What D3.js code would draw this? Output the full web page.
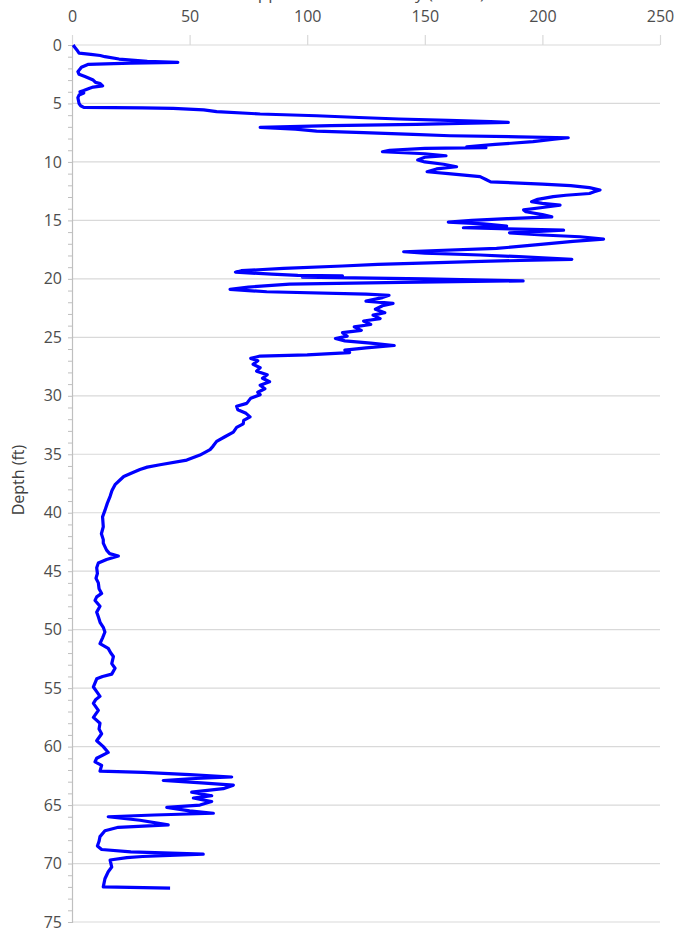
<!DOCTYPE html>
<html>
<head>
<meta charset="utf-8">
<script src="https://cdn.jsdelivr.net/npm/d3@7"></script>
<style>
  body { margin: 0; background: #fff; }
  svg { display: block; font-family: "Open Sans", sans-serif; }
</style>
</head>
<body>
<div id="chart"></div>
<script>
const svgWidth = 676;
const svgHeight = 929;
const margin = { top: 45, right: 16, bottom: 7, left: 72 };

const chartTitle = "Apparent Conductivity (mS/m)";
const yLabel = "Depth (ft)";
const xTicks = [0, 50, 100, 150, 200, 250];
const yTicks = [0, 5, 10, 15, 20, 25, 30, 35, 40, 45, 50, 55, 60, 65, 70, 75];

// depth (ft), top to bottom
const depth = [
  0.0, 0.15, 0.4, 0.7, 0.8, 0.9, 1.0, 1.2, 1.4, 1.48, 1.55, 1.65, 1.9, 2.28, 2.5, 2.7, 3.0, 3.2, 3.3, 3.5,
  3.6, 3.7, 3.9, 4.0, 4.1, 4.28, 4.5, 4.7, 5.0, 5.2, 5.33, 5.38, 5.42, 5.55, 5.7, 5.9, 6.05, 6.2, 6.33, 6.45,
  6.55, 6.62, 6.7, 6.78, 6.9, 7.04, 7.2, 7.36, 7.5, 7.65, 7.76, 7.85, 7.93, 8.05, 8.27, 8.5, 8.7, 8.78, 8.84, 9.0,
  9.13, 9.3, 9.47, 9.6, 9.84, 10.0, 10.2, 10.41, 10.6, 10.84, 11.0, 11.26, 11.5, 11.7, 11.9, 12.03, 12.2, 12.4, 12.55, 12.7,
  12.85, 12.97, 13.2, 13.4, 13.55, 13.7, 13.9, 14.1, 14.26, 14.5, 14.7, 14.85, 15.0, 15.15, 15.3, 15.48, 15.63, 15.83, 16.06, 16.25,
  16.4, 16.6, 16.8, 17.1, 17.4, 17.68, 17.8, 17.96, 18.1, 18.33, 18.5, 18.76, 18.9, 19.1, 19.3, 19.43, 19.6, 19.7, 19.75, 19.85,
  20.0, 20.17, 20.3, 20.45, 20.7, 20.9, 21.0, 21.1, 21.3, 21.4, 21.6, 21.9, 22.1, 22.3, 22.6, 22.9, 23.1, 23.4, 23.6, 23.9,
  24.1, 24.4, 24.6, 24.9, 25.1, 25.3, 25.5, 25.7, 25.9, 26.1, 26.3, 26.5, 26.6, 26.8, 27.0, 27.3, 27.6, 27.9, 28.2, 28.5,
  28.8, 29.1, 29.4, 29.7, 29.9, 30.2, 30.65, 30.9, 31.2, 31.5, 31.8, 32.1, 32.4, 32.7, 33.1, 33.5, 33.9, 34.3, 34.6, 35.07,
  35.5, 35.9, 36.1, 36.3, 36.6, 36.9, 37.2, 37.6, 38.1, 38.6, 39.2, 39.8, 40.35, 41.2, 41.8, 42.3, 42.6, 43.2, 43.5, 43.7,
  44.0, 44.3, 44.7, 45.2, 45.6, 46.0, 46.5, 46.9, 47.2, 47.5, 48.0, 48.5, 48.9, 49.4, 49.8, 50.2, 50.7, 51.2, 51.6, 52.0,
  52.3, 52.9, 53.3, 53.8, 54.0, 54.2, 54.9, 55.3, 55.7, 56.0, 56.3, 56.9, 57.5, 58.0, 58.5, 58.9, 59.5, 60.0, 60.5, 61.0,
  61.3, 61.6, 62.1, 62.2, 62.4, 62.6, 62.75, 62.9, 63.1, 63.3, 63.6, 63.9, 64.2, 64.4, 64.7, 65.0, 65.2, 65.5, 65.7, 65.85,
  66.0, 66.3, 66.7, 66.9, 67.2, 67.7, 68.1, 68.5, 68.8, 69.0, 69.2, 69.4, 69.5, 69.7, 70.3, 70.7, 71.3, 72.0, 72.1
];

// reading at each depth
const reading = [
  0.5, 1, 2, 3, 8, 12, 14, 20, 32, 45, 25, 7, 4, 2.5, 3, 5.5, 9, 10, 12, 13,
  9, 7.5, 5, 3.4, 5, 3, 2.5, 2.7, 3, 3.7, 5, 30, 43, 56, 61.5, 80, 104, 122, 139, 160,
  178, 185.5, 165, 146.5, 110, 80, 95, 104, 124, 145, 160.7, 190, 211, 205, 196, 180, 167.8, 176, 150, 135,
  132, 150, 159, 150, 147, 150, 158, 163.5, 155, 151, 160, 173.5, 176, 178, 200, 212, 220, 224.5, 222, 220,
  210, 204.6, 198, 195.4, 200, 207.5, 200, 192, 193, 200, 204, 185, 170, 160, 175, 184.8, 166.4, 209, 186, 200,
  216, 226, 213, 197, 180.5, 141, 150, 173.5, 190, 212.5, 174, 130, 115, 90, 72, 69.5, 85, 96, 115, 98,
  150, 191.8, 140, 92.5, 75, 67.2, 75, 82.8, 125, 134.8, 132, 125, 136.5, 132, 129, 133, 128, 131, 124, 127,
  120, 123, 115, 117, 112, 116, 127, 137, 125, 116, 118, 100, 80, 76, 79, 77, 80, 78.5, 83, 81,
  84, 80, 82, 79, 80, 76, 74.3, 70, 70.5, 74, 75.7, 73, 72.8, 70, 68.6, 65, 61.5, 60, 58.7, 54.4,
  48.8, 37.4, 32, 28.9, 25.4, 22, 20.4, 18.3, 17, 16.2, 15, 14, 13, 13.3, 12.5, 13.3, 13.3, 14.7, 16, 19.7,
  14.7, 11.2, 10.5, 10.8, 10.2, 11.2, 11.5, 12.6, 10.5, 9.8, 11.9, 10.5, 11.2, 12, 13.3, 14, 13, 11.9, 15.4, 16.5,
  17.6, 16.9, 18.3, 16.9, 13, 10.5, 9.1, 10.5, 11.9, 10, 9.1, 11.2, 9.1, 11.9, 11.5, 12.6, 10.5, 13.3, 15.4, 10.5,
  9.8, 12.6, 11.9, 30.3, 50, 67.9, 50, 38.8, 55, 68.6, 64.3, 50.9, 59.4, 51.6, 59.4, 54.4, 40.3, 50, 60.1, 35,
  15.4, 28.9, 40.9, 19.7, 14, 11.9, 11.5, 10.8, 12.6, 25, 55.8, 30, 23.3, 16.2, 16.9, 15.4, 14, 13.3, 41.7
];

const width = svgWidth - margin.left - margin.right;
const height = svgHeight - margin.top - margin.bottom;

const svg = d3.select("#chart")
  .append("svg")
  .attr("width", svgWidth)
  .attr("height", svgHeight);

const g = svg.append("g").attr("transform", `translate(${margin.left},${margin.top})`);

const x = d3.scaleLinear().domain([0, 250]).range([0, width]);
const y = d3.scaleLinear().domain([0, 75]).range([0, height]);

// horizontal grid lines
g.selectAll(".grid")
  .data(yTicks)
  .enter()
  .append("line")
  .attr("x1", 0)
  .attr("x2", width)
  .attr("y1", d => y(d))
  .attr("y2", d => y(d))
  .attr("stroke", "#d9d9d9")
  .attr("stroke-width", 1.2);

// top axis
const xAxis = g.append("g")
  .call(d3.axisTop(x).tickValues(xTicks).tickSize(10).tickPadding(13));
xAxis.select(".domain").remove();
xAxis.selectAll("line").attr("stroke", "#d9d9d9").attr("stroke-width", 1.2);
xAxis.selectAll("text")
  .style("font-size", "16px")
  .style("font-family", "'Open Sans', sans-serif")
  .attr("fill", "#4d4d4d");

// left axis with a small tick every foot
const yAxis = g.append("g")
  .call(d3.axisLeft(y)
    .tickValues(d3.range(0, 76, 1))
    .tickSize(4)
    .tickPadding(6)
    .tickFormat(d => (d % 5 === 0 ? d : "")));
yAxis.select(".domain").attr("stroke", "#bfbfbf").attr("stroke-width", 1.2);
yAxis.selectAll("line").attr("stroke", "#bfbfbf");
yAxis.selectAll("text")
  .style("font-size", "16px")
  .style("font-family", "'Open Sans', sans-serif")
  .attr("fill", "#4d4d4d");

// the log
const pts = depth.map((d, i) => [reading[i], d]);
const line = d3.line()
  .x(d => x(d[0]))
  .y(d => y(d[1]));

g.append("path")
  .datum(pts)
  .attr("fill", "none")
  .attr("stroke", "#0000ff")
  .attr("stroke-width", 3.2)
  .attr("stroke-linejoin", "round")
  .attr("d", line);

// title, mostly cut off at the top edge
svg.append("text")
  .attr("x", margin.left + width / 2)
  .attr("y", -1)
  .attr("text-anchor", "middle")
  .attr("font-size", "17px")
  .attr("fill", "#4d4d4d")
  .text(chartTitle);

svg.append("text")
  .attr("transform", `translate(24, ${margin.top + 435}) rotate(-90)`)
  .attr("text-anchor", "middle")
  .attr("font-size", "16px")
  .attr("fill", "#404040")
  .text(yLabel);
</script>
</body>
</html>
